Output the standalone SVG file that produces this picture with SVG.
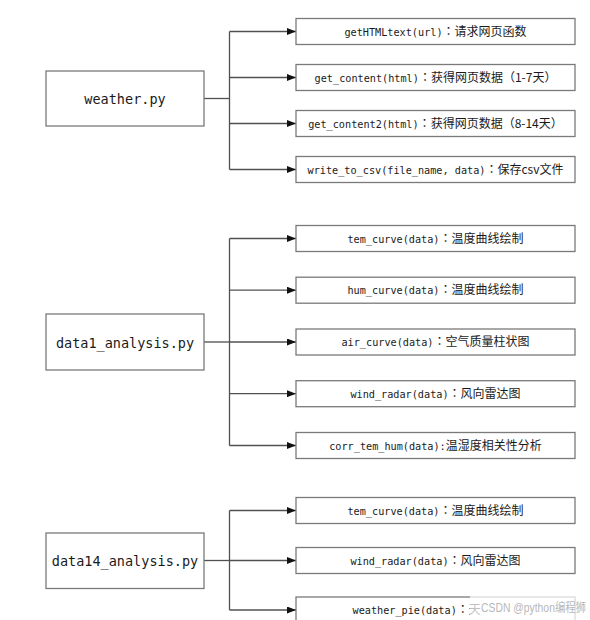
<svg xmlns="http://www.w3.org/2000/svg" width="590" height="620" viewBox="0 0 590 620">
<style>
.bg{fill:#ffffff}
.main rect{fill:#ffffff;stroke:#7a7a7a;stroke-width:1.3}
.main text{font-family:"DejaVu Sans Mono","Liberation Mono",monospace;font-size:13.5px;fill:#1a1a1a;text-anchor:middle}
.fn rect{fill:#ffffff;stroke:#7a7a7a;stroke-width:1.3}
.fn text{font-family:"DejaVu Sans Mono","Liberation Mono","Noto Sans CJK SC",monospace;font-size:10.2px;fill:#1a1a1a;text-anchor:middle}
.cjk{font-family:"Noto Sans CJK SC","Noto Sans",sans-serif;font-size:12px}
.col{font-family:"Noto Sans CJK TC","Noto Sans CJK SC",sans-serif;font-size:12px}
.conn path{fill:none;stroke:#505050;stroke-width:1.3}
.wm-bg{fill:#ffffff;opacity:0.72}
.wm{font-family:"Liberation Sans","Noto Sans CJK SC",sans-serif;font-size:12px;fill:#b8b8b8}
</style>
<defs>
<marker id="arr" markerWidth="9" markerHeight="7" refX="9" refY="3.5" orient="auto" markerUnits="userSpaceOnUse">
<path d="M0,0 L9,3.5 L0,7 z" fill="#111"/>
</marker>
</defs>
<rect class="bg" x="0" y="0" width="590" height="620"/>

<g id="connectors" class="conn">
<path d="M204,98.5 H229.5"/>
<path d="M229.5,31.5 V169.5"/>
<path d="M229.5,31.5 H296" marker-end="url(#arr)"/>
<path d="M229.5,77.5 H296" marker-end="url(#arr)"/>
<path d="M229.5,123.5 H296" marker-end="url(#arr)"/>
<path d="M229.5,169.5 H296" marker-end="url(#arr)"/>

<path d="M204,342 H229.5"/>
<path d="M229.5,238.5 V445.5"/>
<path d="M229.5,238.5 H296" marker-end="url(#arr)"/>
<path d="M229.5,290.2 H296" marker-end="url(#arr)"/>
<path d="M229.5,342 H296" marker-end="url(#arr)"/>
<path d="M229.5,393.7 H296" marker-end="url(#arr)"/>
<path d="M229.5,445.5 H296" marker-end="url(#arr)"/>

<path d="M204,560.5 H229.5"/>
<path d="M229.5,510.5 V610"/>
<path d="M229.5,510.5 H296" marker-end="url(#arr)"/>
<path d="M229.5,560.5 H296" marker-end="url(#arr)"/>
<path d="M229.5,610 H296" marker-end="url(#arr)"/>
</g>

<g id="weather" class="main">
<rect x="46" y="71" width="158" height="55"/>
<text x="125" y="104">weather.py</text>
</g>
<g id="getHTMLtext" class="fn">
<rect x="296" y="18.5" width="279" height="26"/>
<text x="435.5" y="35.5">getHTMLtext(url)<tspan class="col">：</tspan><tspan class="cjk">请求网页函数</tspan></text>
</g>
<g id="get_content" class="fn">
<rect x="296" y="64.5" width="279" height="26"/>
<text x="435.5" y="81.5">get_content(html)<tspan class="col">：</tspan><tspan class="cjk">获得网页数据（1-7天）</tspan></text>
</g>
<g id="get_content2" class="fn">
<rect x="296" y="110.5" width="279" height="26"/>
<text x="435.5" y="127.5">get_content2(html)<tspan class="col">：</tspan><tspan class="cjk">获得网页数据（8-14天）</tspan></text>
</g>
<g id="write_to_csv" class="fn">
<rect x="296" y="156.5" width="279" height="26"/>
<text x="435.5" y="173.5">write_to_csv(file_name, data)<tspan class="col">：</tspan><tspan class="cjk">保存csv文件</tspan></text>
</g>

<g id="data1_analysis" class="main">
<rect x="46" y="314" width="158" height="56"/>
<text x="125" y="347.5">data1_analysis.py</text>
</g>
<g id="tem_curve1" class="fn">
<rect x="296" y="225.5" width="279" height="26"/>
<text x="435.5" y="242.5">tem_curve(data)<tspan class="col">：</tspan><tspan class="cjk">温度曲线绘制</tspan></text>
</g>
<g id="hum_curve" class="fn">
<rect x="296" y="277.2" width="279" height="26"/>
<text x="435.5" y="294.2">hum_curve(data)<tspan class="col">：</tspan><tspan class="cjk">温度曲线绘制</tspan></text>
</g>
<g id="air_curve" class="fn">
<rect x="296" y="329" width="279" height="26"/>
<text x="435.5" y="346">air_curve(data)<tspan class="col">：</tspan><tspan class="cjk">空气质量柱状图</tspan></text>
</g>
<g id="wind_radar1" class="fn">
<rect x="296" y="380.7" width="279" height="26"/>
<text x="435.5" y="397.7">wind_radar(data)<tspan class="col">：</tspan><tspan class="cjk">风向雷达图</tspan></text>
</g>
<g id="corr_tem_hum" class="fn">
<rect x="296" y="432.5" width="279" height="26"/>
<text x="435.5" y="449.5">corr_tem_hum(data):<tspan class="cjk">温湿度相关性分析</tspan></text>
</g>

<g id="data14_analysis" class="main">
<rect x="46" y="533" width="158" height="55.5"/>
<text x="125" y="566">data14_analysis.py</text>
</g>
<g id="tem_curve14" class="fn">
<rect x="296" y="497.5" width="279" height="26"/>
<text x="435.5" y="514.5">tem_curve(data)<tspan class="col">：</tspan><tspan class="cjk">温度曲线绘制</tspan></text>
</g>
<g id="wind_radar14" class="fn">
<rect x="296" y="547.5" width="279" height="26"/>
<text x="435.5" y="564.5">wind_radar(data)<tspan class="col">：</tspan><tspan class="cjk">风向雷达图</tspan></text>
</g>
<g id="weather_pie" class="fn">
<rect x="296" y="597" width="279" height="40"/>
<text x="352.5" y="614" style="text-anchor:start">weather_pie(data)<tspan class="col">：</tspan><tspan class="cjk">天</tspan></text>
</g>

<g id="watermark">
<rect class="wm-bg" x="470" y="593" width="120" height="27"/>
<text class="wm" x="481" y="612" textLength="105" lengthAdjust="spacingAndGlyphs">CSDN @python编程狮</text>
</g>
</svg>
